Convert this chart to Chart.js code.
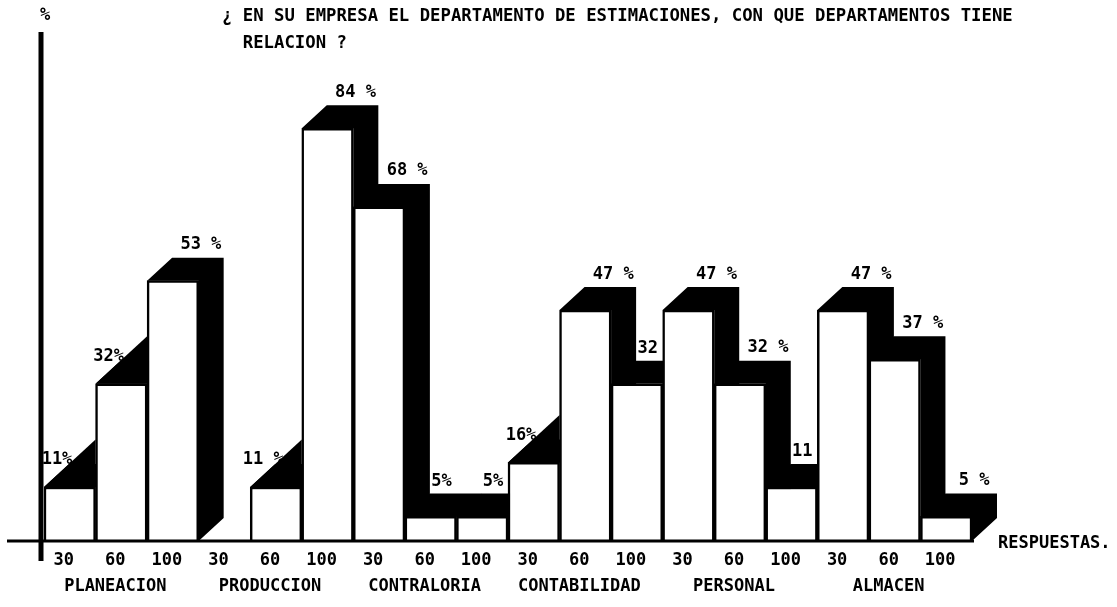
<!DOCTYPE html>
<html>
<head>
<meta charset="utf-8">
<script src="https://cdn.jsdelivr.net/npm/chart.js@4"></script>
<style>
  html, body { margin: 0; padding: 0; background: #fff; }
</style>
</head>
<body>
<canvas id="chart" width="1117" height="607"></canvas>
<script>
const departments = ['PLANEACION', 'PRODUCCION', 'CONTRALORIA', 'CONTABILIDAD', 'PERSONAL', 'ALMACEN'];
const responses = ['30', '60', '100'];
// one bar per slot, department by department (30, 60, 100); null = empty slot
const percentages = [11, 32, 53, null, 11, 84, 68, 5, 5, 16, 47, 32, 47, 32, 11, 47, 37, 5];
const valueLabels = ['11%', '32%', '53 %', '', '11 %', '84 %', '68 %', '5%', '5%', '16%', '47 %', '32', '47 %', '32 %', '11', '47 %', '37 %', '5 %'];
const titleLines = ['¿ EN SU EMPRESA EL DEPARTAMENTO DE ESTIMACIONES, CON QUE DEPARTAMENTOS TIENE', '  RELACION ?'];
const yUnit = '%';
const xUnit = 'RESPUESTAS.';

const FONT = "'DejaVu Sans Mono', monospace";
const DX = 25, DY = 23; // depth of the 3d extrusion

const labels = [];
departments.forEach(d => responses.forEach((r, i) => labels.push(i === 1 ? [r, d] : r)));

function barBox(bar) {
  const p = bar.getProps(['x', 'y', 'base', 'width'], true);
  return { l: p.x - p.width / 2, r: p.x + p.width / 2, top: p.y, base: p.base, w: p.width };
}

// black top + right side of every bar, drawn before the white fronts
const extrude = {
  id: 'extrude',
  beforeDatasetsDraw(chart) {
    const ctx = chart.ctx;
    const bars = chart.getDatasetMeta(0).data;
    ctx.save();
    ctx.fillStyle = '#000';
    bars.forEach((bar, i) => {
      const v = percentages[i];
      if (v == null) return;
      const b = barBox(bar);
      ctx.beginPath();
      ctx.moveTo(b.l, b.top);
      ctx.lineTo(b.l + DX, b.top - DY);
      ctx.lineTo(b.r + DX, b.top - DY);
      ctx.lineTo(b.r + DX, b.base - DY);
      ctx.lineTo(b.r, b.base);
      ctx.lineTo(b.r, b.top);
      ctx.closePath();
      ctx.fill();
      // rising step: the slope runs on up to the next (taller) bar
      const prev = percentages[i - 1] ?? 0;
      const next = percentages[i + 1];
      if (prev < v && next != null && next > v) {
        const h = b.w * DY / DX;
        if (b.top - h > bars[i + 1].y) {
          ctx.beginPath();
          ctx.moveTo(b.l, b.top);
          ctx.lineTo(b.r, b.top - h);
          ctx.lineTo(b.r, b.top);
          ctx.closePath();
          ctx.fill();
        }
      }
    });
    ctx.restore();
  }
};

const decorations = {
  id: 'decorations',
  afterDatasetsDraw(chart) {
    const { ctx, chartArea: a } = chart;
    const bars = chart.getDatasetMeta(0).data;
    ctx.save();
    ctx.strokeStyle = '#000';
    ctx.lineCap = 'butt';
    // axes
    ctx.lineWidth = 3;
    ctx.beginPath();
    ctx.moveTo(7, a.bottom);
    ctx.lineTo(a.right + 2, a.bottom);
    ctx.stroke();
    ctx.lineWidth = 5;
    ctx.beginPath();
    ctx.moveTo(a.left - 3, a.top - 3);
    ctx.lineTo(a.left - 3, a.bottom + 20);
    ctx.stroke();

    ctx.fillStyle = '#000';
    ctx.textBaseline = 'middle';
    // title
    ctx.font = 'bold 17.3px ' + FONT;
    ctx.textAlign = 'left';
    ctx.fillText(titleLines[0], 222, 17);
    ctx.fillText(titleLines[1], 222, 44);
    // axis names
    ctx.font = 'bold 17px ' + FONT;
    ctx.textAlign = 'center';
    ctx.fillText(yUnit, a.left + 1, 16);
    ctx.textAlign = 'left';
    ctx.fillText(xUnit, a.right + 26, a.bottom + 3);

    // value labels
    ctx.font = 'bold 17px ' + FONT;
    ctx.textAlign = 'center';
    bars.forEach((bar, i) => {
      const v = percentages[i];
      if (v == null) return;
      const b = barBox(bar);
      const prev = percentages[i - 1] ?? 0;
      const next = percentages[i + 1];
      let x, y;
      if (prev < v && next != null && next > v) {
        x = b.l + 13; y = b.top - 27;
      } else if (next != null && next >= v) {
        x = b.r - 15; y = b.top - 35;
      } else {
        x = b.l + b.w / 2 + DX + 3; y = b.top - 36;
      }
      ctx.fillText(valueLabels[i], x, y);
    });
    ctx.restore();
  }
};

new Chart(document.getElementById('chart'), {
  type: 'bar',
  data: {
    labels: labels,
    datasets: [{
      data: percentages,
      backgroundColor: '#fff',
      borderColor: '#000',
      borderWidth: 2.5,
      categoryPercentage: 1,
      barPercentage: 1
    }]
  },
  options: {
    responsive: false,
    animation: false,
    layout: { padding: { left: 44, right: 145, top: 35, bottom: 0 } },
    plugins: { legend: { display: false }, tooltip: { enabled: false }, title: { display: false } },
    scales: {
      x: {
        grid: { display: false, drawTicks: false },
        border: { display: false },
        ticks: {
          color: '#000',
          font: { family: FONT, size: 17, weight: 'bold', lineHeight: '26px' },
          padding: 7,
          labelOffset: -6,
          autoSkip: false,
          maxRotation: 0
        }
      },
      y: { display: false, min: 0, max: 103 }
    }
  },
  plugins: [extrude, decorations]
});
</script>
</body>
</html>
